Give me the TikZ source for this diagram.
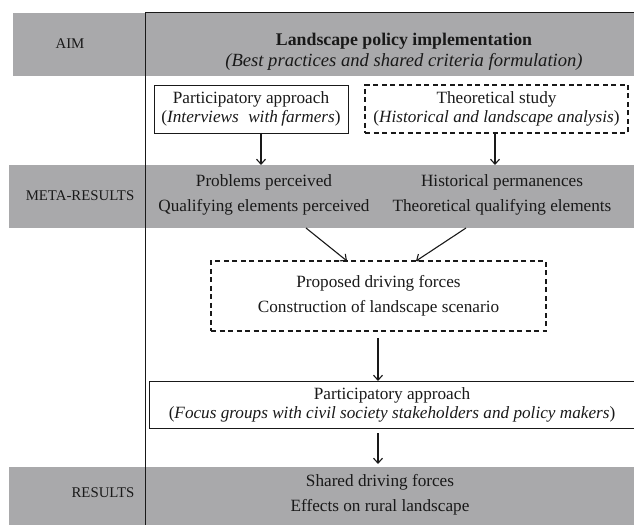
\documentclass[tikz,border=0pt]{standalone}
\usepackage{fontspec}
\setmainfont{Liberation Serif}
\usetikzlibrary{arrows.meta}
\definecolor{bandgray}{RGB}{169,169,171}
\definecolor{ink}{RGB}{25,25,25}
\begin{document}
\begin{tikzpicture}[x=1bp,y=-1bp,
  every node/.style={inner sep=0pt, outer sep=0pt, text=ink},
  body/.style={align=center, font=\fontsize{17.2bp}{25bp}\selectfont},
  tight/.style={align=center, font=\fontsize{17.2bp}{19bp}\selectfont},
  rowlabel/.style={font=\fontsize{14.8bp}{17bp}\selectfont},
  plainbox/.style={draw=ink, line width=0.9bp},
  dashbox/.style={draw=ink, line width=1.6bp, dash pattern=on 5bp off 3.5bp},
  flow/.style={draw=ink, line width=1.1bp, -{Straight Barb[length=5bp,width=9bp,line width=1.1bp]}},
]
\useasboundingbox (0,0) rectangle (634,525);

% grey row bands
\fill[bandgray] (13,13) rectangle (634,76);
\fill[bandgray] (9,165) rectangle (634,228);
\fill[bandgray] (9,467) rectangle (634,525);

% frame of the right column
\draw[ink, line width=1bp] (145,525) -- (145,13) -- (634,13);

% row labels
\node[rowlabel] (lblaim) at (70,44) {AIM};
\node[rowlabel] (lblmeta) at (80,196) {META-RESULTS};
\node[rowlabel] (lblres) at (103,493) {RESULTS};

% aim
\node[align=center, font=\fontsize{17.8bp}{21bp}\selectfont] (aim) at (404,52)
  {\textbf{Landscape policy implementation}\\{\fontsize{18.6bp}{21bp}\selectfont\textit{(Best practices and shared criteria formulation)}}};

% first-stage boxes
\node[plainbox, tight, minimum width=194bp, minimum height=48bp] (interviews) at (251,109)
  {Participatory approach\\(\textit{Interviews\hspace{0.55em}with\hspace{0.2em}farmers})};
\node[dashbox, tight, minimum width=263bp, minimum height=48bp] (theory) at (496.5,109)
  {Theoretical study\\(\textit{Historical and landscape analysis})};

% meta-results
\node[body] (problems) at (264,194.5) {Problems perceived\\Qualifying elements perceived};
\node[body] (historical) at (502,194.5) {Historical permanences\\Theoretical qualifying elements};

% scenario
\node[dashbox, body, minimum width=335bp, minimum height=70bp] (scenario) at (378.5,296)
  {Proposed driving forces\\Construction of landscape scenario};

% focus groups
\node[plainbox, tight, minimum width=486bp, minimum height=47bp] (focus) at (392,404.5)
  {Participatory approach\\(\textit{Focus groups with civil society stakeholders and policy makers})};

% results
\node[body] (results) at (380,495) {Shared driving forces\\Effects on rural landscape};

% arrow end points
\coordinate (m1) at (261,165);
\coordinate (m2) at (495,165);
\coordinate (d1) at (306,228);
\coordinate (d2) at (466,228);
\coordinate (s1) at (347,259);
\coordinate (s2) at (416,259);
\coordinate (c1) at (378,338);
\coordinate (c2) at (378,369);
\coordinate (r1) at (378,433);
\coordinate (r2) at (378,464);

% connectors
\draw[flow] (interviews.south -| m1) -- (m1);
\draw[flow] (theory.south -| m2) -- (m2);
\draw[flow] (d1) -- (scenario.north -| s1);
\draw[flow] (d2) -- (scenario.north -| s2);
\draw[flow] (c1) -- (focus.north -| c2);
\draw[flow] (r1) -- (r2);
\end{tikzpicture}
\end{document}
